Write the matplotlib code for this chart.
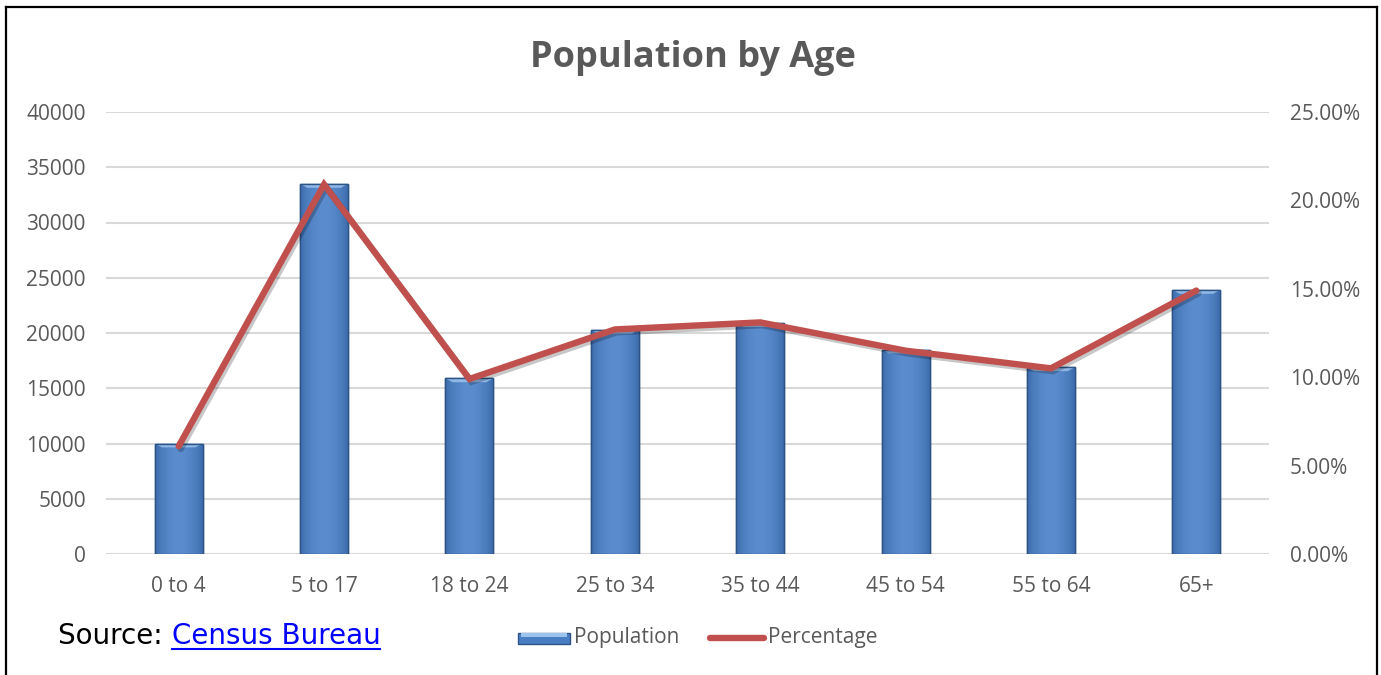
import numpy as np
import matplotlib
matplotlib.use("Agg")
import matplotlib.pyplot as plt
from matplotlib.patches import Rectangle, Polygon
from matplotlib.lines import Line2D
import matplotlib.patheffects as pe

categories = ["0 to 4", "5 to 17", "18 to 24", "25 to 34", "35 to 44", "45 to 54", "55 to 64", "65+"]
population = [10000, 33500, 15900, 20300, 20900, 18500, 16900, 23900]
percentage = [6.1, 20.9, 9.9, 12.7, 13.1, 11.5, 10.5, 14.9]
left_ticks = list(range(0, 40001, 5000))
right_ticks = [0, 5, 10, 15, 20, 25]

W, H = 1381, 675
fig = plt.figure(figsize=(W / 100, H / 100), dpi=100)
fig.patch.set_facecolor("white")

def fx(px):
    return px / W

def fy(py):
    return 1 - py / H

ax = fig.add_axes([fx(106), fy(554), fx(1269) - fx(106), fy(112) - fy(554)])
ax2 = ax.twinx()

grey = "#595959"
font = "Open Sans"

x = np.arange(len(categories))
bw = 0.33
bars = ax.bar(x, population, width=bw, color="#4A7EC2", edgecolor="#2C5586",
              linewidth=1.0, zorder=3)

# horizontal shading across each bar for a rounded, bevelled look
grad = np.linspace(0, 1, 64)
shade = np.sin(np.pi * (0.08 + 0.84 * grad)) ** 0.7
base = np.array([0x2C, 0x5A, 0x98]) / 255.0
light = np.array([0x5A, 0x8C, 0xCE]) / 255.0
img = (base[None, :] * (1 - shade[:, None]) + light[None, :] * shade[:, None])
img = img[None, :, :]
for b in bars:
    x0, w, h = b.get_x(), b.get_width(), b.get_height()
    im = ax.imshow(img, extent=[x0, x0 + w, 0, h], aspect="auto", zorder=3.1,
                   interpolation="bilinear")
    im.set_clip_path(b)
    # lighter bevel at the top of each bar
    ax.add_patch(Polygon([(x0, h), (x0 + w, h), (x0 + w * 0.85, h - 350),
                          (x0 + w * 0.15, h - 350)], closed=True,
                         facecolor="#9CC3EE", edgecolor="none", alpha=0.85, zorder=3.2))
    ax.add_patch(Rectangle((x0, 0), w, h, facecolor="none", edgecolor="#2C5586",
                           linewidth=1.0, zorder=3.3))

ax.set_xlim(-0.5, len(categories) - 0.5)
ax.set_ylim(0, 40000)
ax.set_yticks(left_ticks)
ax.set_yticklabels([str(v) for v in left_ticks])
ax.set_xticks(x)
ax.set_xticklabels(categories)
ax.grid(axis="y", color="#D9D9D9", linewidth=1.5, zorder=0)
ax.set_axisbelow(True)
for s in ax.spines.values():
    s.set_visible(False)
for s in ax2.spines.values():
    s.set_visible(False)
ax.tick_params(axis="both", length=0, labelsize=15, labelcolor=grey)
ax.tick_params(axis="y", pad=14.5)
ax.tick_params(axis="x", pad=16)
for t in ax.get_xticklabels() + ax.get_yticklabels():
    t.set_fontfamily(font)

ax2.plot(x, percentage, color="#C0504D", linewidth=4.6, solid_capstyle="round",
         solid_joinstyle="miter", zorder=5,
         path_effects=[pe.SimpleLineShadow(offset=(1.5, -2), alpha=0.22, shadow_color="black"),
                       pe.Normal()])
ax2.set_ylim(0, 25)
ax2.set_yticks(right_ticks)
ax2.set_yticklabels([f"{v:.2f}%" for v in right_ticks])
ax2.tick_params(axis="y", length=0, labelsize=15, labelcolor=grey, pad=15)
for t in ax2.get_yticklabels():
    t.set_fontfamily(font)

fig.text(fx(693), fy(58), "Population by Age", ha="center", va="center",
         fontsize=26, fontweight="bold", color=grey, family=font)

# legend
fig.add_artist(Rectangle((fx(518), fy(644)), fx(52), fy(633) - fy(644),
                         transform=fig.transFigure, facecolor="#4A7EC2",
                         edgecolor="#2C5586", linewidth=1.0))
fig.add_artist(Rectangle((fx(521), fy(637)), fx(46), fy(633) - fy(637),
                         transform=fig.transFigure, facecolor="#9CC3EE",
                         edgecolor="none"))
fig.text(fx(574), fy(638), "Population", ha="left", va="center", fontsize=15,
         color=grey, family=font)
fig.add_artist(Line2D([fx(710), fx(764)], [fy(638), fy(638)], transform=fig.transFigure,
                      color="#C0504D", linewidth=4.6, solid_capstyle="round"))
fig.text(fx(768), fy(638), "Percentage", ha="left", va="center", fontsize=15,
         color=grey, family=font)

# source note with link styling
src = fig.text(fx(58), fy(636), "Source: ", ha="left", va="center", fontsize=20,
               color="black", family="DejaVu Sans")
fig.canvas.draw()
bb = src.get_window_extent()
link = fig.text(bb.x1 / W, fy(636), "Census Bureau", ha="left", va="center",
                fontsize=20, color="#0000FF", family="DejaVu Sans")
fig.canvas.draw()
lb = link.get_window_extent()
fig.add_artist(Line2D([lb.x0 / W, lb.x1 / W], [fy(649), fy(649)],
                      transform=fig.transFigure, color="#0000FF", linewidth=1.5))

# outer frame
for xs, ys in [([6, 6], [7, 675]), ([6, 1377], [7, 7]), ([1377, 1377], [7, 675])]:
    fig.add_artist(Line2D([fx(v) for v in xs], [fy(v) for v in ys],
                          transform=fig.transFigure, color="black", linewidth=1.6))

fig.savefig("out.png", dpi=100, facecolor="white")
